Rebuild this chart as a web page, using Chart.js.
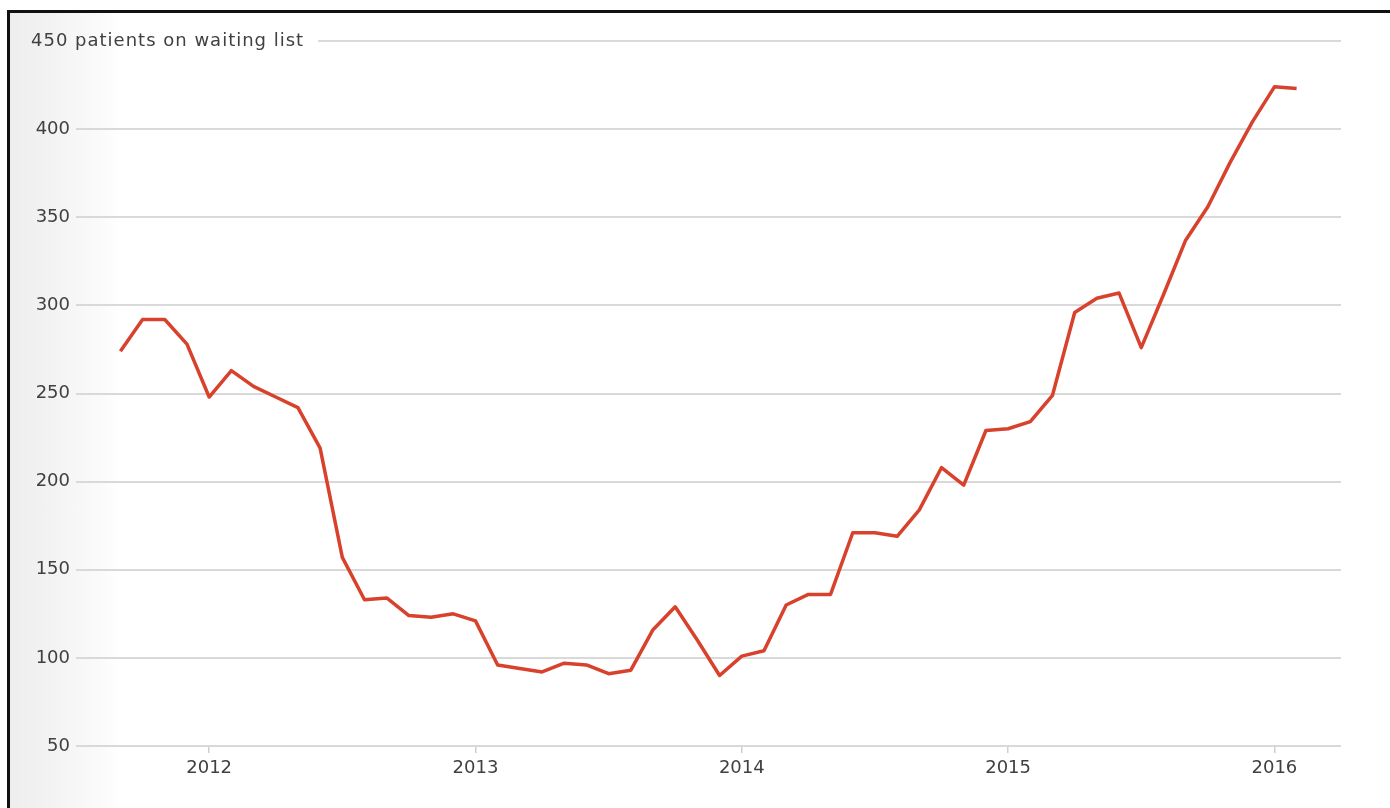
<!DOCTYPE html>
<html>
<head>
<meta charset="utf-8">
<script src="https://cdn.jsdelivr.net/npm/chart.js@4.4.1/dist/chart.umd.min.js"></script>
<style>
  html, body { margin: 0; padding: 0; width: 1390px; height: 808px; overflow: hidden; background: #fff; }
  /* black frame + faint grey strip on the left, like the screenshot */
  #frame {
    position: absolute; left: 7px; top: 10px; width: 1400px; height: 820px;
    border-left: 3px solid #111; border-top: 3px solid #111;
    background: linear-gradient(to right, #eeeeee 0px, #f2f2f2 38px, #f6f6f6 60px, #fbfbfb 95px, #ffffff 110px);
  }
  #wrap { position: absolute; left: 0; top: 0; width: 1390px; height: 808px; }
</style>
</head>
<body>
<div id="frame"></div>
<div id="wrap"><canvas id="chart"></canvas></div>
<script>
// monthly figures, Sep 2011 - Feb 2016
const months = [
    '2011-09', '2011-10', '2011-11', '2011-12',
    '2012-01', '2012-02', '2012-03', '2012-04', '2012-05', '2012-06',
    '2012-07', '2012-08', '2012-09', '2012-10', '2012-11', '2012-12',
    '2013-01', '2013-02', '2013-03', '2013-04', '2013-05', '2013-06',
    '2013-07', '2013-08', '2013-09', '2013-10', '2013-11', '2013-12',
    '2014-01', '2014-02', '2014-03', '2014-04', '2014-05', '2014-06',
    '2014-07', '2014-08', '2014-09', '2014-10', '2014-11', '2014-12',
    '2015-01', '2015-02', '2015-03', '2015-04', '2015-05', '2015-06',
    '2015-07', '2015-08', '2015-09', '2015-10', '2015-11', '2015-12',
    '2016-01', '2016-02'
];
const patients = [
    274, 292, 292, 278,
    248, 263, 254, 248, 242, 219, 157, 133, 134, 124, 123, 125,
    121, 96, 94, 92, 97, 96, 91, 93, 116, 129, 110, 90,
    101, 104, 130, 136, 136, 171, 171, 169, 184, 208, 198, 229,
    230, 234, 249, 296, 304, 307, 276, 306, 337, 356, 381, 404,
    424, 423
];
const yearLabels = ['2012', '2013', '2014', '2015', '2016'];
const yTickValues = [50, 100, 150, 200, 250, 300, 350, 400, 450];
const topTitle = '450 patients on waiting list';

const lineColor = '#d8412c';
const gridColor = '#d9d9d9';
const textColor = '#404040';
const font = { family: '"DejaVu Sans", sans-serif', size: 18 };

// months counted from Jan 2012 so the year ticks land on 0, 12, 24...
function monthIndex(s) {
    const [y, m] = s.split('-').map(Number);
    return (y - 2012) * 12 + (m - 1);
}
const points = months.map((m, i) => ({ x: monthIndex(m), y: patients[i] }));
const yearTicks = yearLabels.map(y => monthIndex(y + '-01'));

// the top gridline carries the axis title instead of a plain number
const topLabel = {
    id: 'topLabel',
    afterDraw(chart) {
        const { ctx, chartArea, scales } = chart;
        const y = scales.y.getPixelForValue(450);
        ctx.save();
        ctx.font = font.size + 'px ' + font.family;
        ctx.letterSpacing = '1px';
        ctx.fillStyle = textColor;
        ctx.textAlign = 'left';
        ctx.textBaseline = 'middle';
        ctx.fillText(topTitle, 31, y);
        const w = ctx.measureText(topTitle).width;
        ctx.strokeStyle = gridColor;
        ctx.lineWidth = 2;
        ctx.beginPath();
        ctx.moveTo(31 + w + 14, y);
        ctx.lineTo(chartArea.right, y);
        ctx.stroke();
        ctx.restore();
    }
};

const ctx = document.getElementById('chart').getContext('2d');
new Chart(ctx, {
    type: 'line',
    data: {
        datasets: [{
            label: 'Patients on waiting list',
            data: points,
            borderColor: lineColor,
            borderWidth: 3.5,
            borderJoinStyle: 'round',
            pointRadius: 0,
            tension: 0,
            fill: false
        }]
    },
    options: {
        responsive: true,
        maintainAspectRatio: false,
        animation: false,
        layout: { padding: { top: 41, right: 49, bottom: 0, left: 0 } },
        plugins: {
            legend: { display: false },
            tooltip: { enabled: false }
        },
        scales: {
            x: {
                type: 'linear',
                min: -6,
                max: 51,
                afterBuildTicks: scale => {
                    scale.ticks = yearTicks.map(v => ({ value: v }));
                },
                afterFit: scale => { scale.height = 62; },
                border: { display: false },
                grid: {
                    drawOnChartArea: false,
                    drawTicks: true,
                    tickLength: 7,
                    color: '#cfcfcf',
                    lineWidth: 1.5
                },
                ticks: {
                    autoSkip: false,
                    maxRotation: 0,
                    padding: 5,
                    color: textColor,
                    font: font,
                    callback: v => yearLabels[yearTicks.indexOf(v)]
                }
            },
            y: {
                min: 50,
                max: 450,
                afterBuildTicks: scale => {
                    scale.ticks = yTickValues.map(v => ({ value: v }));
                },
                afterFit: scale => { scale.width = 76; },
                border: { display: false },
                grid: {
                    drawTicks: false,
                    lineWidth: 2,
                    color: c => (c.tick && c.tick.value === 450) ? 'rgba(0,0,0,0)' : gridColor
                },
                ticks: {
                    padding: 6,
                    color: textColor,
                    font: font,
                    callback: v => v === 450 ? '' : v
                }
            }
        }
    },
    plugins: [topLabel]
});
</script>
</body>
</html>
